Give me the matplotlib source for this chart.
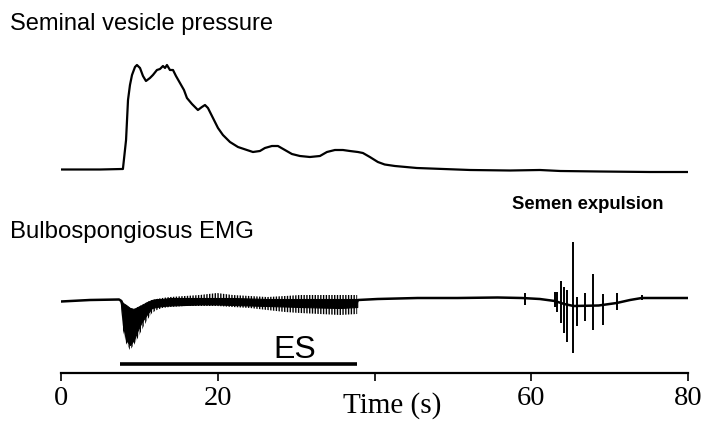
import matplotlib
matplotlib.use("Agg")
import matplotlib.pyplot as plt
import numpy as np

# Seminal vesicle pressure (arbitrary units, baseline = 0)
pressure_t = [0, 5.0, 7.8, 7.9, 8.3, 8.55, 8.8, 9.06, 9.44, 9.69, 10.08, 10.46, 10.84,
              11.35, 11.73, 12.24, 12.63, 13.01, 13.27, 13.52, 13.9, 14.29, 14.67,
              15.18, 15.69, 16.07, 16.71, 17.47, 17.98, 18.37, 18.75, 19.39, 20.03,
              20.66, 21.56, 22.58, 23.72, 24.49, 25.38, 26.02, 26.91, 27.68, 28.57,
              29.46, 30.48, 31.76, 33.04, 33.93, 34.95, 35.97, 36.86, 37.88, 38.52,
              39.41, 40.43, 41.3, 42.6, 45.4, 47.1, 52.2, 57.3, 61.1, 63.7, 68.8,
              75.1, 80]
pressure = [0.5, 0.5, 1, 1, 30, 70, 85, 95, 103, 105, 102, 94, 89,
            92, 95, 100, 101, 104, 102, 105, 100, 100, 94,
            87, 80, 72, 66, 60, 63, 65, 62, 52, 42,
            35, 28, 23, 20, 18, 19, 22, 24, 24, 20,
            16, 14, 13, 14, 18, 20, 20, 19, 18, 17,
            13, 8, 5.5, 4, 2, 1.5, 0, -0.5, 0, -1, -1.5,
            -2, -2]

# Bulbospongiosus EMG trace (arbitrary units, baseline = 0)
emg_t = [0, 3.7, 7.4, 7.7, 8.8, 10.3, 12.2, 15.8, 22.0, 30.5, 37.7, 37.9, 40.4,
         45.5, 50.6, 55.7, 58.8, 61.1, 63.0, 64.2, 65.4, 68.6, 70.9, 72.6, 74.1,
         77.0, 80]
emg = [-1.5, 0, 0.5, -1, -25, -12, -3, -1, -1, -3, -3, 0, 1,
       2, 2, 2.5, 2, 1, -1, -4, -6, -5.5, -3, 0, 2,
       2, 2]

# envelope of the stimulation-evoked activity
band_t = [7.6, 7.9, 8.3, 8.8, 9.3, 9.8, 10.3, 11.0, 11.6, 12.2, 12.9, 13.9, 15.8,
          17.7, 19.9, 21.9, 24.1, 26.3, 28.6, 30.5, 33.0, 35.6, 37.8]
band_hi = [0, -3, -5, -8, -9, -7, -5, -2, 0, 1, 2, 3, 4,
           5, 7, 5, 4, 3, 4, 5, 5, 5, 5]
band_lo = [0, -30, -43, -50, -45, -38, -30, -20, -13, -10, -8, -7, -6,
           -6, -6, -7, -8, -10, -12, -13, -14, -15, -14]
core_hi = [0, -3, -5, -8, -9, -7, -5, -2, 0, 1, 1, 2, 2,
           2, 2, 2, 1.5, 1, 1, 1, 1, 1, 1]
core_lo = [0, -25, -40, -45, -40, -30, -22, -14, -8, -7, -6, -5.5, -5,
           -4.5, -4.5, -5, -5.5, -6, -6.5, -7, -7.5, -8, -7]

# discrete spikes during semen expulsion
spike_t = [59.2, 63.0, 63.3, 63.8, 64.2, 64.5, 65.3, 65.9, 66.8, 67.9, 69.1, 70.9, 74.1]
spike_top = [7, 8, 8, 19, 13, 10, 58, 3, 7, 26, 6, 7, 5]
spike_bottom = [-5, -7, -12, -23, -33, -42, -53, -26, -21, -30, -25, -10, 0]

# electrical stimulation period
es_start, es_end = 7.5, 37.8

xticks = [0, 20, 40, 60, 80]
xticklabels = ["0", "20", "", "60", "80"]

plt.rcParams["hatch.linewidth"] = 1.0

W, H = 702, 423
fig = plt.figure(figsize=(W / 100, H / 100), dpi=100)

left = 61 / W
width = (688 - 61) / W

# top panel: pressure
ax1 = fig.add_axes([left, (H - 190) / H, width, 150 / H])
ax1.plot(pressure_t, pressure, color="black", lw=1.6, solid_joinstyle="round")
ax1.set_xlim(0, 80)
ax1.set_ylim(-20, 130)
ax1.axis("off")

# bottom panel: EMG
ax2 = fig.add_axes([left, (H - 373) / H, width, 148 / H])
ax2.fill_between(band_t, band_lo, band_hi, facecolor="none", edgecolor="black",
                 hatch="||||||", linewidth=0)
ax2.fill_between(band_t, core_lo, core_hi, color="black", linewidth=0.8)
ax2.plot(emg_t, emg, color="black", lw=1.8)
ax2.vlines(spike_t, spike_bottom, spike_top, color="black", lw=1.4)
ax2.plot([es_start, es_end], [-63.5, -63.5], color="black", lw=2.6,
         solid_capstyle="butt")
ax2.text(29.85, -58, "ES", fontsize=23,
         family="Liberation Sans", ha="center", va="baseline")

ax2.set_xlim(0, 80)
ax2.set_ylim(-73, 75)
for s in ["left", "right", "top"]:
    ax2.spines[s].set_visible(False)
ax2.spines["bottom"].set_linewidth(1.6)
ax2.set_yticks([])
ax2.set_xticks(xticks)
ax2.set_xticklabels(xticklabels, family="Liberation Serif", fontsize=20.5)
ax2.tick_params(axis="x", direction="out", length=5.5, width=1.2, pad=4)
ax2.set_xlabel("Time (s)", family="Liberation Serif", fontsize=21)
ax2.xaxis.set_label_coords((392 - 61) / (688 - 61), -0.13)
ax2.xaxis.label.set_va("top")

fig.text(10 / W, (H - 30) / H, "Seminal vesicle pressure", fontsize=17,
         family="Liberation Sans", va="baseline")
fig.text(10 / W, (H - 238) / H, "Bulbospongiosus EMG", fontsize=17.3,
         family="Liberation Sans", va="baseline")
fig.text(512 / W, (H - 209) / H, "Semen expulsion", fontsize=13.3,
         family="Liberation Sans", weight="bold", va="baseline")

fig.savefig("out.png", dpi=100)
